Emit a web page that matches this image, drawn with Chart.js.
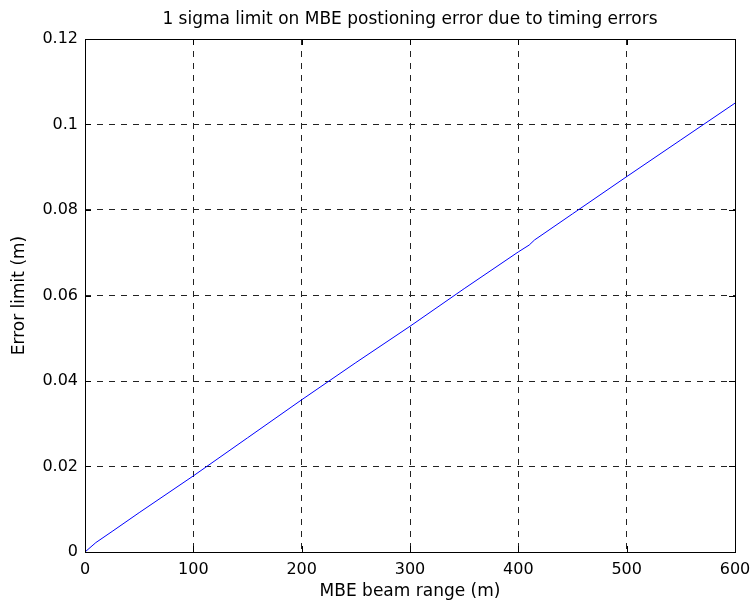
<!DOCTYPE html>
<html>
<head>
<meta charset="utf-8">
<script src="https://cdn.jsdelivr.net/npm/chart.js@4"></script>
<style>
html,body{margin:0;padding:0;background:#fff;}
#wrap{width:752px;height:605px;position:relative;}
</style>
</head>
<body>
<div id="wrap"><canvas id="c" width="752" height="605"></canvas></div>
<script>
const titleText = "1 sigma limit on MBE postioning error due to timing errors";
const xLabel = "MBE beam range (m)";
const yLabel = "Error limit (m)";
const rangeM = [0, 10, 25, 50, 100, 150, 200, 250, 300, 350, 400, 410, 415, 450, 500, 550, 600];
const errLimit = [0, 0.0022, 0.0048, 0.0092, 0.0178, 0.0267, 0.0356, 0.0443, 0.0528, 0.0616, 0.0702, 0.0718, 0.0730, 0.0791, 0.0878, 0.0964, 0.1050];
const xTicks = [0, 100, 200, 300, 400, 500, 600];
const yTicks = [0, 0.02, 0.04, 0.06, 0.08, 0.1, 0.12];

const FONT = "'DejaVu Sans', 'Liberation Sans', Arial, sans-serif";
const L = 85, T = 39, R = 735, B = 552, W = 752, H = 605;

const boxPlugin = {
  id: 'box',
  afterDraw(chart) {
    const ctx = chart.ctx, a = chart.chartArea;
    ctx.save();
    ctx.strokeStyle = '#000';
    ctx.lineWidth = 1;
    ctx.strokeRect(Math.round(a.left) + 0.5, Math.round(a.top) + 0.5, Math.round(a.right - a.left), Math.round(a.bottom - a.top));
    const xs = chart.scales.x, ys = chart.scales.y;
    ctx.beginPath();
    xTicks.forEach(v => {
      const px = Math.round(xs.getPixelForValue(v)) + 0.5;
      ctx.moveTo(px, a.bottom); ctx.lineTo(px, a.bottom - 6);
      ctx.moveTo(px, a.top); ctx.lineTo(px, a.top + 6);
    });
    yTicks.forEach(v => {
      const py = Math.round(ys.getPixelForValue(v)) + 0.5;
      ctx.moveTo(a.left, py); ctx.lineTo(a.left + 6, py);
      ctx.moveTo(a.right, py); ctx.lineTo(a.right - 6, py);
    });
    ctx.stroke();
    ctx.fillStyle = '#000';
    ctx.font = "17px " + FONT;
    ctx.textAlign = 'center';
    ctx.textBaseline = 'alphabetic';
    ctx.fillText(titleText, (a.left + a.right) / 2, 24);
    ctx.restore();
  }
};

new Chart(document.getElementById('c'), {
  type: 'line',
  data: {
    datasets: [{
      data: rangeM.map((x, i) => ({x: x, y: errLimit[i]})),
      borderColor: '#0000ff',
      borderWidth: 1,
      pointRadius: 0,
      tension: 0,
      fill: false
    }]
  },
  options: {
    responsive: false,
    animation: false,
    devicePixelRatio: 1,
    layout: { padding: { top: T, right: W - R, left: 0, bottom: 0 } },
    plugins: { legend: { display: false }, tooltip: { enabled: false } },
    scales: {
      x: {
        type: 'linear', min: 0, max: 600,
        afterBuildTicks: s => { s.ticks = xTicks.map(v => ({value: v})); },
        afterFit: s => { s.height = H - B; s.paddingLeft = 0; s.paddingRight = 0; },
        grid: { color: '#222', lineWidth: 1, drawTicks: false, tickLength: 0 },
        border: { display: false, dash: [6, 6] },
        ticks: { color: '#000', font: { family: FONT, size: 16 }, padding: 8, maxRotation: 0, callback: v => String(v) },
        title: { display: true, text: xLabel, color: '#000', font: { family: FONT, size: 17 }, padding: { top: 2, bottom: 3 } }
      },
      y: {
        type: 'linear', min: 0, max: 0.12,
        afterBuildTicks: s => { s.ticks = yTicks.map(v => ({value: v})); },
        afterFit: s => { s.width = L; s.paddingTop = 0; s.paddingBottom = 0; },
        grid: { color: '#222', lineWidth: 1, drawTicks: false, tickLength: 0 },
        border: { display: false, dash: [6, 6] },
        ticks: { color: '#000', font: { family: FONT, size: 16 }, padding: 7, callback: v => String(+v.toFixed(2)) },
        title: { display: true, text: yLabel, color: '#000', font: { family: FONT, size: 17 }, padding: { top: 9, bottom: 4 } }
      }
    }
  },
  plugins: [boxPlugin]
});
</script>
</body>
</html>
